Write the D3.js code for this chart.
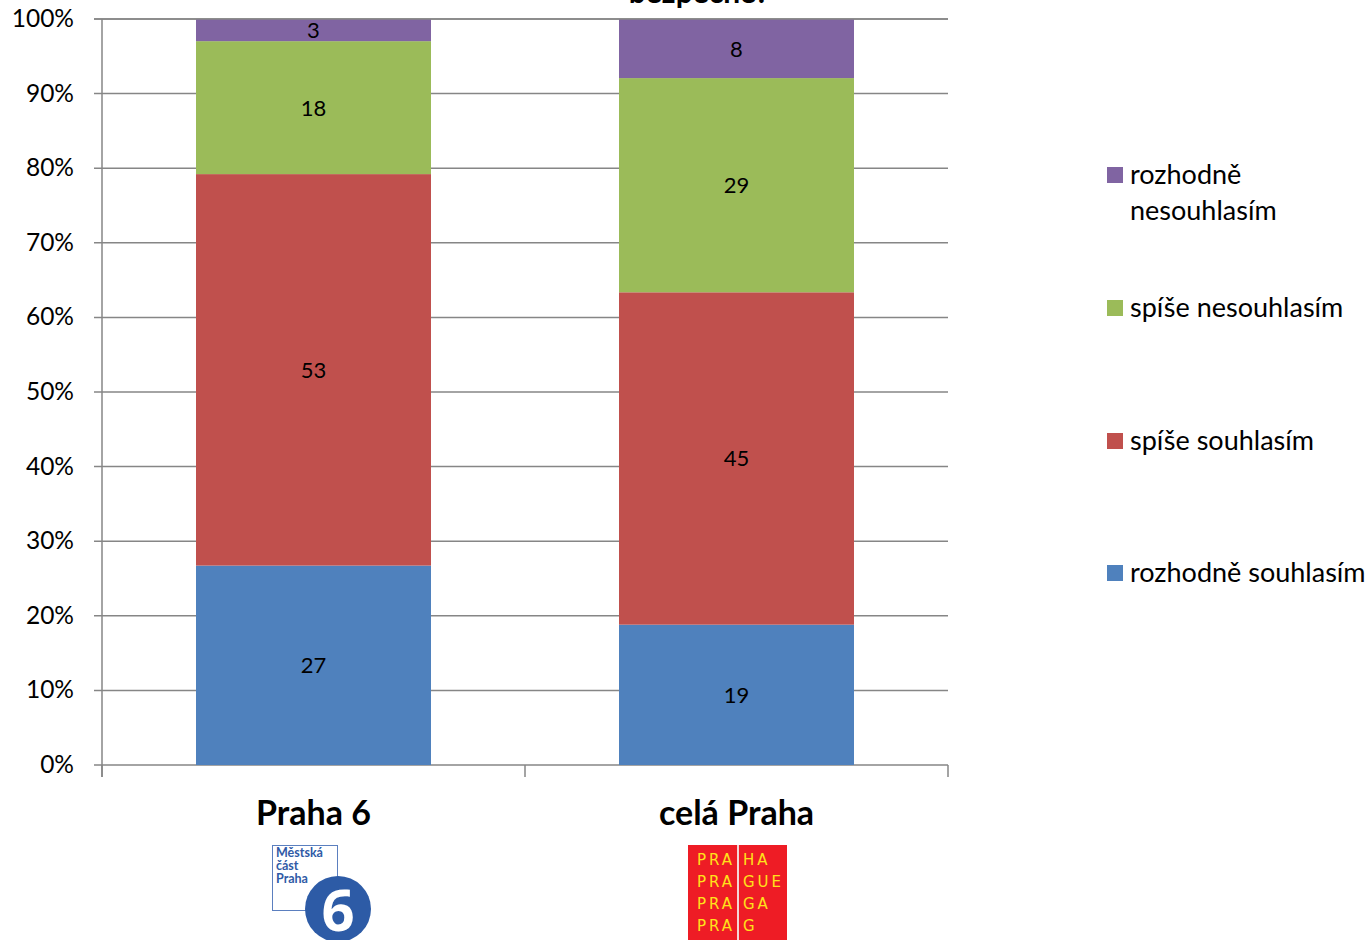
<!DOCTYPE html>
<html>
<head>
<meta charset="utf-8">
<script src="https://cdn.jsdelivr.net/npm/d3@7"></script>
<style>
  body { margin: 0; background: #fff; }
  svg { display: block; font-family: Lato, "Open Sans", sans-serif; }
</style>
</head>
<body>
<div id="chart"></div>
<script>
(function () {
    'use strict';
    var categories = ["Praha 6", "celá Praha"],
        series = ["rozhodně souhlasím", "spíše souhlasím", "spíše nesouhlasím", "rozhodně nesouhlasím"],
        legendLabels = [["rozhodně", "nesouhlasím"], ["spíše nesouhlasím"], ["spíše souhlasím"], ["rozhodně souhlasím"]],
        praha6 = [27, 53, 18, 3],
        celaPraha = [19, 45, 29, 8],
        colors = ["#4F81BD", "#C0504D", "#9BBB59", "#8064A2"],
        yTicks = [0, 0.1, 0.2, 0.3, 0.4, 0.5, 0.6, 0.7, 0.8, 0.9, 1],
        width = 1371, height = 940,
        left = 102, right = 948, top = 19, bottom = 765,
        svg, x, y, stacks, rows;

    svg = d3.select("#chart").append("svg")
        .attr("width", width)
        .attr("height", height);

    x = d3.scaleBand().domain(categories).range([left, right]).paddingInner(0).paddingOuter(0);
    y = d3.scaleLinear().domain([0, 1]).range([bottom, top]);

    // gridlines
    svg.append("g").selectAll("line")
        .data(yTicks)
        .enter().append("line")
        .attr("x1", left - 8).attr("x2", right)
        .attr("y1", function (d) { return y(d); })
        .attr("y2", function (d) { return y(d); })
        .attr("stroke", "#868686").attr("stroke-width", 1.5);

    svg.append("g").selectAll("text")
        .data(yTicks)
        .enter().append("text")
        .attr("x", 74)
        .attr("y", function (d) { return y(d) + 8; })
        .attr("text-anchor", "end")
        .attr("font-size", 24.5)
        .text(d3.format(".0%"));

    // y axis line and category ticks
    svg.append("line")
        .attr("x1", left).attr("x2", left).attr("y1", top).attr("y2", bottom + 12)
        .attr("stroke", "#868686").attr("stroke-width", 1.5);
    svg.append("g").selectAll("line")
        .data([left, left + x.bandwidth(), right])
        .enter().append("line")
        .attr("x1", function (d) { return d; }).attr("x2", function (d) { return d; })
        .attr("y1", bottom).attr("y2", bottom + 12)
        .attr("stroke", "#868686").attr("stroke-width", 1.5);

    // stacked, normalized bars
    rows = [praha6, celaPraha].map(function (vals, i) {
        var total = d3.sum(vals), acc = 0;
        return vals.map(function (v, j) {
            var seg = {cat: categories[i], value: v, s: j, y0: acc / total, y1: (acc + v) / total};
            acc += v;
            return seg;
        });
    });
    stacks = svg.append("g").selectAll("g")
        .data(rows)
        .enter().append("g");

    var barW = 235;
    stacks.selectAll("rect")
        .data(function (d) { return d; })
        .enter().append("rect")
        .attr("x", function (d) { return x(d.cat) + x.bandwidth() / 2 - barW / 2; })
        .attr("width", barW)
        .attr("y", function (d) { return y(d.y1); })
        .attr("height", function (d) { return y(d.y0) - y(d.y1); })
        .attr("fill", function (d) { return colors[d.s]; });

    stacks.selectAll("text")
        .data(function (d) { return d; })
        .enter().append("text")
        .attr("x", function (d) { return x(d.cat) + x.bandwidth() / 2; })
        .attr("y", function (d) { return (y(d.y0) + y(d.y1)) / 2 + 8; })
        .attr("text-anchor", "middle")
        .attr("font-size", 22)
        .text(function (d) { return d.value; });

    // redraw top gridline over bars (as in original)
    svg.append("line")
        .attr("x1", left - 8).attr("x2", right).attr("y1", y(1)).attr("y2", y(1))
        .attr("stroke", "#868686").attr("stroke-width", 1.5);

    // category labels
    svg.append("g").selectAll("text")
        .data(categories)
        .enter().append("text")
        .attr("x", function (d) { return x(d) + x.bandwidth() / 2; })
        .attr("y", 825)
        .attr("text-anchor", "middle")
        .attr("font-size", 34)
        .attr("font-weight", "bold")
        .text(function (d) { return d; });

    // title (cut off at top)
    svg.append("text")
        .attr("x", 699).attr("y", 3)
        .attr("text-anchor", "middle")
        .attr("font-size", 30)
        .attr("font-weight", "bold")
        .text("bezpečné?");

    // legend
    var legendY = [175, 308, 441, 573];
    var leg = svg.append("g").selectAll("g")
        .data(series.slice().reverse())
        .enter().append("g")
        .attr("transform", function (d, i) { return "translate(1107," + legendY[i] + ")"; });
    leg.append("rect")
        .attr("x", 0).attr("y", -8).attr("width", 16).attr("height", 16)
        .attr("fill", function (d, i) { return colors[3 - i]; });
    leg.append("text")
        .attr("font-size", 27)
        .selectAll("tspan")
        .data(function (d, i) { return legendLabels[i]; })
        .enter().append("tspan")
        .attr("x", 23)
        .attr("y", function (d, i) { return 9 + i * 36; })
        .text(function (d) { return d; });

    // Praha 6 logo
    var l6 = svg.append("g").attr("transform", "translate(272,845)");
    l6.append("rect").attr("x", 0.5).attr("y", 0.5).attr("width", 65).attr("height", 65)
        .attr("fill", "none").attr("stroke", "#5b7fbf").attr("stroke-width", 1);
    l6.append("text").attr("fill", "#2f5aa6").attr("font-size", 12.5).attr("font-weight", "bold")
        .selectAll("tspan").data(["Městská", "část", "Praha"])
        .enter().append("tspan")
        .attr("x", 4).attr("y", function (d, i) { return 12 + i * 13; })
        .text(function (d) { return d; });
    l6.append("circle").attr("cx", 66).attr("cy", 64).attr("r", 33).attr("fill", "#2d5ba6");
    l6.append("text").attr("x", 66).attr("y", 86).attr("text-anchor", "middle")
        .attr("fill", "#fff").attr("font-size", 58).attr("font-weight", "bold")
        .attr("font-family", "Open Sans, sans-serif")
        .text("6");

    // Prague logo
    var lp = svg.append("g").attr("transform", "translate(688,845)");
    lp.append("rect").attr("width", 99).attr("height", 95).attr("fill", "#ee1c25");
    lp.append("line").attr("x1", 50).attr("x2", 50).attr("y1", 0).attr("y2", 95)
        .attr("stroke", "#f3d7d7").attr("stroke-width", 2);
    var praLeft = ["PRA", "PRA", "PRA", "PRA"], praRight = ["HA", "GUE", "GA", "G"];
    lp.append("g").selectAll("text").data(praLeft).enter().append("text")
        .attr("x", 9).attr("y", function (d, i) { return 20 + i * 22; })
        .attr("fill", "#ffe21a").attr("font-size", 15).attr("letter-spacing", 3)
        .attr("font-family", "DejaVu Sans, sans-serif")
        .text(function (d) { return d; });
    lp.append("g").selectAll("text").data(praRight).enter().append("text")
        .attr("x", 55).attr("y", function (d, i) { return 20 + i * 22; })
        .attr("fill", "#ffe21a").attr("font-size", 15).attr("letter-spacing", 3)
        .attr("font-family", "DejaVu Sans, sans-serif")
        .text(function (d) { return d; });
}());
</script>
</body>
</html>
